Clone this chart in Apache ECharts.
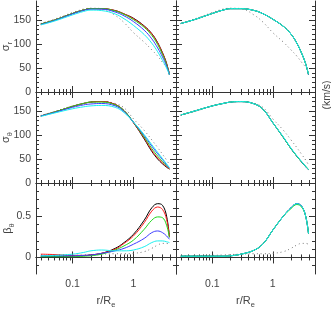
<!DOCTYPE html>
<html><head><meta charset="utf-8">
<script src="https://cdn.jsdelivr.net/npm/echarts@6/dist/echarts.min.js"></script>
<style>html,body{margin:0;padding:0;background:#fff}#c{width:331px;height:310px}</style>
</head><body><div id="c"></div>
<script>
// radii r/Re
const R = [0.03, 0.05, 0.1, 0.15, 0.2, 0.3, 0.5, 0.7, 1, 1.5, 2, 2.5, 3, 3.5, 3.9];

// Row 1: sigma_r (km/s), left column models
const sr_L_black = [142,150,164,171,174,174,170,163,154,138,122,103,82,60,36];
const sr_L_red   = [142,150,164,171,174,174,170,163,153,137,121,102,81,59,36];
const sr_L_green = [142,150,164,171,174,174,169,162,151,135,118,99,78,57,36];
const sr_L_blue  = [141,149,163,170,173,173,167,159,147,129,111,92,73,54,36];
const sr_L_cyan  = [140,148,161,168,171,170,163,153,139,120,102,84,66,50,36];
const sr_data    = [143,152,166,173,175,174,160,145,124,104,88,75,62,52,43];
// right column models
const sr_R_black = [143,151,164,171,174,174,170,163,152,137,121,102,81,59,36];
const sr_R_blue  = [143,151,164,171,174,174,170,163,152,137,121,102,81,59,36];
const sr_R_green = [143,151,164,171,174,174,170,163,152,137,121,102,81,59,37];
const sr_R_cyan  = [143,151,164,171,174,174,170,163,152,137,121,102,81,59,37];

// Row 2: sigma_theta
const st_L_black = [140,148,160,166,169,170,164,151,126,92,66,50,40,33,29];
const st_L_red   = [140,148,160,166,169,170,164,151,126,94,68,52,42,34,29];
const st_L_green = [140,148,160,166,169,169,163,151,127,96,72,56,45,36,30];
const st_L_blue  = [140,147,158,163,165,166,161,149,127,99,77,61,49,38,31];
const st_L_cyan  = [139,146,155,159,161,162,158,147,127,101,80,64,51,40,32];
const st_data    = [141,149,161,166,169,170,166,157,134,110,90,74,60,48,38];
const st_R_black = [142,150,161,166,169,170,165,153,126,95,72,56,44,34,28];
const st_R_blue  = [142,150,161,166,169,170,165,153,126,95,72,56,44,34,28];
const st_R_green = [142,150,161,166,169,170,165,153,126,95,72,56,44,35,28];
const st_R_cyan  = [142,150,161,166,169,170,165,153,126,96,73,57,45,35,28];

// Row 3: beta_theta
const b_L_black = [0.01,0.01,0.015,0.02,0.03,0.05,0.11,0.18,0.28,0.45,0.60,0.65,0.63,0.50,0.25];
const b_L_red   = [0.04,0.035,0.025,0.025,0.03,0.05,0.10,0.17,0.26,0.42,0.56,0.61,0.58,0.46,0.25];
const b_L_green = [0.01,0.01,0.01,0.015,0.02,0.04,0.09,0.14,0.21,0.34,0.45,0.49,0.48,0.39,0.24];
const b_L_blue  = [0.02,0.02,0.02,0.025,0.03,0.05,0.08,0.11,0.16,0.23,0.30,0.32,0.30,0.26,0.22];
const b_L_cyan  = [0.02,0.025,0.04,0.06,0.08,0.09,0.08,0.08,0.09,0.13,0.18,0.20,0.20,0.19,0.18];
const b_data    = [0.02,0.02,0.025,0.03,0.035,0.04,0.045,0.045,0.05,0.07,0.11,0.15,0.17,0.17,0.16];
const b_R_black = [0.015,0.015,0.015,0.015,0.02,0.04,0.09,0.17,0.33,0.50,0.60,0.65,0.62,0.50,0.29];
const b_R_blue  = [0.015,0.015,0.015,0.015,0.02,0.04,0.09,0.17,0.33,0.50,0.60,0.65,0.62,0.50,0.29];
const b_R_green = [0.015,0.015,0.015,0.015,0.02,0.04,0.09,0.17,0.33,0.50,0.59,0.64,0.61,0.50,0.29];
const b_R_cyan  = [0.015,0.015,0.015,0.015,0.02,0.04,0.09,0.17,0.33,0.50,0.60,0.65,0.62,0.50,0.29];

// ticks
const xMajor = [0.1, 1];
const xMinor = [0.03,0.04,0.05,0.06,0.07,0.08,0.09,0.2,0.3,0.4,0.5,0.6,0.7,0.8,0.9,2,3,4];
const sMajor = [0, 50, 100, 150];
const sMinor = [10,20,30,40,60,70,80,90,110,120,130,140,160,170,180];
const bMajor = [0, 0.5];
const bMinor = [-0.1,0.1,0.2,0.3,0.4,0.6,0.7,0.8];
const xRange = [0.025, 5];
const sRange = [0, 190];
const bRange = [-0.2, 0.9];

const FONT = 'Liberation Sans';
const TXT = '#444';
const AX = '#333';
const COLORS = {black:'#000000', red:'#ff1a1a', green:'#1ed81e', blue:'#3d3dff', cyan:'#19f0f0', data:'#777777'};

const panels = [
  {row:0,col:0, yr:sRange, ym:sMajor, yn:sMinor, name:['σ','r'], lines:[['black',sr_L_black],['red',sr_L_red],['green',sr_L_green],['blue',sr_L_blue],['cyan',sr_L_cyan]], data:sr_data},
  {row:0,col:1, yr:sRange, ym:sMajor, yn:sMinor, lines:[['black',sr_R_black],['blue',sr_R_blue],['green',sr_R_green],['cyan',sr_R_cyan]], data:sr_data},
  {row:1,col:0, yr:sRange, ym:sMajor, yn:sMinor, name:['σ','θ'], lines:[['black',st_L_black],['red',st_L_red],['green',st_L_green],['blue',st_L_blue],['cyan',st_L_cyan]], data:st_data},
  {row:1,col:1, yr:sRange, ym:sMajor, yn:sMinor, lines:[['black',st_R_black],['blue',st_R_blue],['green',st_R_green],['cyan',st_R_cyan]], data:st_data},
  {row:2,col:0, yr:bRange, ym:bMajor, yn:bMinor, name:['β','θ'], lines:[['black',b_L_black],['red',b_L_red],['green',b_L_green],['blue',b_L_blue],['cyan',b_L_cyan]], data:b_data},
  {row:2,col:1, yr:bRange, ym:bMajor, yn:bMinor, lines:[['black',b_R_black],['blue',b_R_blue],['green',b_R_green],['cyan',b_R_cyan]], data:b_data}
];
const cols = [{left:36,width:140},{left:176,width:139}];
const rows = [{top:1,height:91},{top:92,height:91},{top:183,height:91}];

const grid = [], xAxis = [], yAxis = [], series = [];
const richName = {
  a:{fontSize:11, lineHeight:16, fontFamily:FONT, color:TXT},
  b:{fontSize:7.5, lineHeight:8, verticalAlign:'bottom', fontFamily:FONT, color:TXT}
};
panels.forEach((p, g) => {
  grid.push({left:cols[p.col].left, width:cols[p.col].width, top:rows[p.row].top, height:rows[p.row].height, containLabel:false, outerBoundsMode:'none'});
  const bottomRow = p.row === 2;
  const leftCol = p.col === 0;
  const mkX = (pos, major, withLine, showLabel) => ({
    type:'log', gridIndex:g, position:pos, min:xRange[0], max:xRange[1], logBase:10,
    axisLine:{show:withLine, lineStyle:{color:AX, width:1}},
    axisTick:{show:true, inside:true, length: major ? 6 : 3, customValues: major ? xMajor : xMinor, lineStyle:{color:AX, width:1}},
    axisLabel:{show:showLabel, customValues: xMajor, fontFamily:FONT, fontSize:10.5, color:TXT, margin:5},
    splitLine:{show:false}, minorTick:{show:false}, nameMoveOverlap:false
  });
  const xb = mkX('bottom', true, true, bottomRow);
  if (bottomRow) {
    xb.name = '{a|r/R}{b|e}';
    xb.nameLocation = 'middle';
    xb.nameGap = 19;
    xb.nameTextStyle = {rich: richName};
  }
  xAxis.push(xb, mkX('bottom', false, false, false), mkX('top', true, true, false), mkX('top', false, false, false));
  const mkY = (pos, major, withLine, showLabel) => ({
    type:'value', gridIndex:g, position:pos, min:p.yr[0], max:p.yr[1],
    axisLine:{show:withLine, onZero:false, lineStyle:{color:AX, width:1}},
    axisTick:{show:true, inside:true, length: major ? 6 : 3, customValues: major ? p.ym : p.yn, lineStyle:{color:AX, width:1}},
    axisLabel:{show:showLabel, customValues: p.ym, fontFamily:FONT, fontSize:10.5, color:TXT, margin:5},
    splitLine:{show:false}, nameMoveOverlap:false
  });
  const yl = mkY('left', true, true, leftCol);
  if (p.name) {
    yl.name = '{a|' + p.name[0] + '}{b|' + p.name[1] + '}';
    yl.nameLocation = 'middle';
    yl.nameGap = p.row === 2 ? 20 : 22;
    yl.nameRotate = 90;
    yl.nameTextStyle = {rich: richName};
  }
  yAxis.push(yl, mkY('left', false, false, false), mkY('right', true, true, false), mkY('right', false, false, false));
  series.push({
    type:'line', xAxisIndex:g*4, yAxisIndex:g*4, showSymbol:false, smooth:0.4,
    data: R.map((r,i)=>[r, p.data[i]]),
    lineStyle:{color:COLORS.data, width:1, type:[1,3]}, z:2, silent:true
  });
  p.lines.forEach(([c, arr]) => {
    series.push({
      type:'line', xAxisIndex:g*4, yAxisIndex:g*4, showSymbol:false, smooth:0.4,
      data: R.map((r,i)=>[r, arr[i]]),
      lineStyle:{color:COLORS[c], width:1}, z:3, silent:true
    });
  });
});

const chart = echarts.init(document.getElementById('c'), null, {renderer:'canvas'});
chart.setOption({
  animation:false,
  backgroundColor:'#fff',
  grid, xAxis, yAxis, series,
  graphic:[{
    type:'text', x:327, y:95, rotation:Math.PI/2,
    style:{text:'(km/s)', fontFamily:FONT, fontSize:10.5, fill:TXT, align:'center', verticalAlign:'middle'}
  }]
});
</script>
</body></html>
